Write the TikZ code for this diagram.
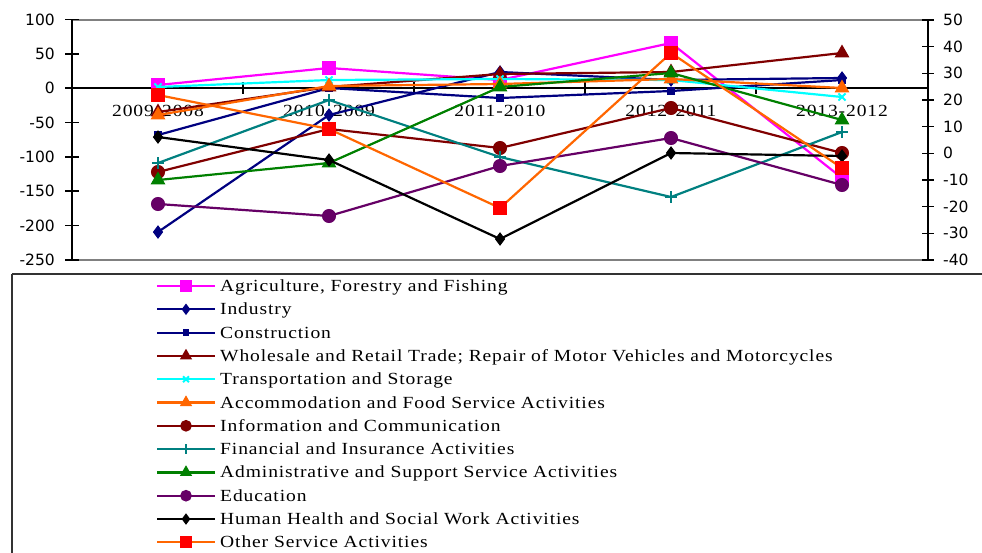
\documentclass[tikz,border=0pt]{standalone}
\usepackage{fontspec}
\setmainfont{Liberation Serif}[FakeStretch=1.15, LetterSpace=5.2]
\newfontfamily\axfont{DejaVu Sans}
\usetikzlibrary{plotmarks}
\definecolor{cagri}{RGB}{255,0,255}
\definecolor{cnavy}{RGB}{0,0,128}
\definecolor{cdred}{RGB}{128,0,0}
\definecolor{ccyan}{RGB}{0,255,255}
\definecolor{corange}{RGB}{255,102,0}
\definecolor{cteal}{RGB}{0,128,128}
\definecolor{cgreen}{RGB}{0,128,0}
\definecolor{cpurple}{RGB}{102,0,102}
\definecolor{cred}{RGB}{255,0,0}
\definecolor{cgrid}{RGB}{128,128,128}
\tikzset{
  ser/.style={line width=2.2pt},
  sAgri/.style={ser, draw=cagri, mark=square*, mark size=6.5pt, mark options={fill=cagri, draw=cagri, solid, line width=1pt}},
  sInd/.style={ser, draw=cnavy, mark=diamond*, mark size=6pt, mark options={fill=cnavy, draw=cnavy, solid, line width=1pt}},
  sCon/.style={ser, draw=cnavy, mark=square*, mark size=3.5pt, mark options={fill=cnavy, draw=cnavy, solid, line width=1pt}},
  sWho/.style={ser, draw=cdred, mark=triangle*, mark size=7.5pt, mark options={fill=cdred, draw=cdred, solid, line width=1pt}},
  sTra/.style={ser, draw=ccyan, mark=x, mark size=5pt, mark options={draw=ccyan, solid, line width=2pt}},
  sAcc/.style={ser, draw=corange, mark=triangle*, mark size=7.5pt, mark options={fill=corange, draw=corange, solid, line width=1pt}},
  sInf/.style={ser, draw=cdred, mark=*, mark size=6.5pt, mark options={fill=cdred, draw=cdred, solid, line width=1pt}},
  sFin/.style={ser, draw=cteal, mark=+, mark size=6pt, mark options={draw=cteal, solid, line width=2pt}},
  sAdm/.style={ser, draw=cgreen, mark=triangle*, mark size=7.5pt, mark options={fill=cgreen, draw=cgreen, solid, line width=1pt}},
  sEdu/.style={ser, draw=cpurple, mark=*, mark size=6.5pt, mark options={fill=cpurple, draw=cpurple, solid, line width=1pt}},
  sHea/.style={ser, draw=black, mark=diamond*, mark size=6pt, mark options={fill=black, draw=black, solid, line width=1pt}},
  sOth/.style={ser, draw=corange, mark=square*, mark size=6.5pt, mark options={fill=cred, draw=cred, solid, line width=1pt}},
  leg/.style={every mark/.append style={scale=0.82}, mark indices={2}},
  legtxt/.style={anchor=base west, inner sep=0pt, font=\fontsize{17}{19}\selectfont},
  cattxt/.style={anchor=base, inner sep=0pt, font=\fontsize{17}{19}\selectfont},
  axl/.style={anchor=east, inner sep=0pt, font=\axfont\fontsize{15.5}{17}\selectfont},
  axr/.style={anchor=west, inner sep=0pt, font=\axfont\fontsize{15.5}{17}\selectfont},
}
\newcommand\legrow[4]{%
  \draw[#2, leg] plot coordinates {(157,#1) (186,#1) (215,#1)};
  \node[legtxt] (#3) at (220,#1+5.5) {#4};
}
\begin{document}
\begin{tikzpicture}[x=1pt, y={(0pt,-1pt)}]
\useasboundingbox[fill=white] (0,0) rectangle (982,552);
% plot frame
\draw[cgrid, line width=2pt] (72,20) -- (928,20);
\draw[cgrid, line width=2pt] (72,260) -- (928,260);
% left axis
\draw[black, line width=1.8pt] (72,19.5) -- (72,260);
\foreach \v/\yy in {100/19.5,50/53.8,0/88.2,-50/122.5,-100/156.9,-150/191.2,-200/225.6,-250/260}{
  \draw[black, line width=1.5pt] (65,\yy) -- (79,\yy);
  \node[axl] (L\v) at (55,\yy) {\v};
}
% right axis
\draw[black, line width=1.8pt] (928,20) -- (928,260);
\foreach \v/\yy in {50/20,40/46.6,30/73.3,20/100,10/126.6,0/153.3,-10/180,-20/206.6,-30/233.3,-40/260}{
  \draw[black, line width=1.5pt] (922,\yy) -- (934,\yy);
  \node[axr] (R\v) at (943,\yy) {\v};
}
% zero line and category ticks
\draw[black, line width=1.5pt] (72,88.2) -- (928,88.2);
\foreach \xx in {243,414,585,756}{
  \draw[black, line width=1.3pt] (\xx,82) -- (\xx,94);
}
\node[cattxt] (c1) at (158,116) {2009-2008};
\node[cattxt] (c2) at (329,116) {2010-2009};
\node[cattxt] (c3) at (500,116) {2011-2010};
\node[cattxt] (c4) at (671,116) {2012-2011};
\node[cattxt] (c5) at (842,116) {2013-2012};
% series
\draw[sAgri] plot coordinates {(158,85) (329,68) (500,80) (671,43) (842,178)};
\draw[sInd] plot coordinates {(158,232) (329,115) (500,72) (671,80) (842,78)};
\draw[sCon] plot coordinates {(158,135) (329,88) (500,98) (671,91) (842,80)};
\draw[sWho] plot coordinates {(158,112) (329,87) (500,74) (671,72) (842,53)};
\draw[sTra] plot coordinates {(158,87) (329,80) (500,79) (671,80) (842,97)};
\draw[sAcc] plot coordinates {(158,115) (329,86) (500,84) (671,79) (842,88)};
\draw[sInf] plot coordinates {(158,172) (329,129) (500,148) (671,108) (842,153)};
\draw[sFin] plot coordinates {(158,163) (329,100) (500,157) (671,197) (842,132)};
\draw[sAdm] plot coordinates {(158,180) (329,163) (500,87) (671,73) (842,120)};
\draw[sEdu] plot coordinates {(158,204) (329,216) (500,166) (671,138) (842,185)};
\draw[sHea] plot coordinates {(158,137) (329,160) (500,239) (671,153) (842,156)};
\draw[sOth] plot coordinates {(158,95) (329,129) (500,208) (671,53) (842,168)};
% legend
\draw[black!80, line width=1.5pt] (12,274) -- (995,274);
\draw[black!80, line width=1.5pt] (12,274) -- (12,560);
\legrow{286}{sAgri}{t1}{Agriculture, Forestry and Fishing}
\legrow{309.3}{sInd}{t2}{Industry}
\legrow{332.6}{sCon}{t3}{Construction}
\legrow{355.9}{sWho}{t4}{Wholesale and Retail Trade; Repair of Motor Vehicles and Motorcycles}
\legrow{379.2}{sTra}{t5}{Transportation and Storage}
\legrow{402.5}{sAcc}{t6}{Accommodation and Food Service Activities}
\legrow{425.8}{sInf}{t7}{Information and Communication}
\legrow{449.1}{sFin}{t8}{Financial and Insurance Activities}
\legrow{472.4}{sAdm}{t9}{Administrative and Support Service Activities}
\legrow{495.7}{sEdu}{t10}{Education}
\legrow{519}{sHea}{t11}{Human Health and Social Work Activities}
\legrow{542.3}{sOth}{t12}{Other Service Activities}
\end{tikzpicture}
\end{document}
